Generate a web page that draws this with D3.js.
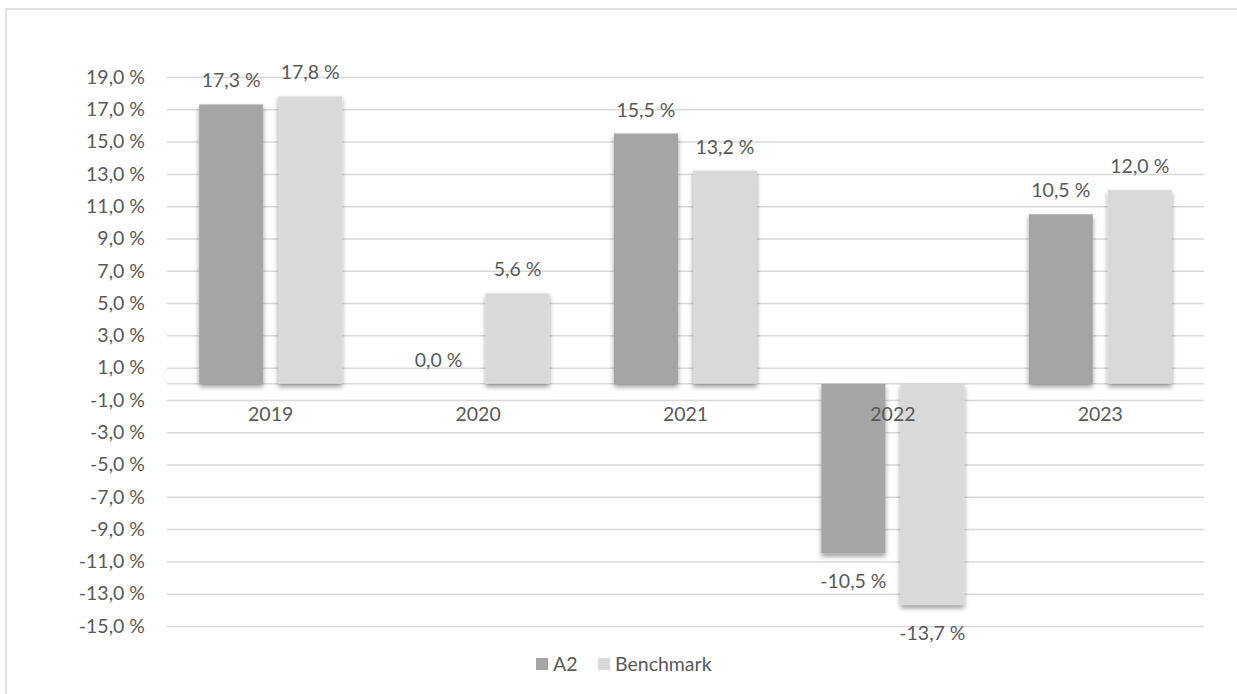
<!DOCTYPE html>
<html>
<head>
<meta charset="utf-8">
<script src="https://cdn.jsdelivr.net/npm/d3@7"></script>
<style>
  body { margin: 0; background: #ffffff; }
  text { font-family: Lato, "Open Sans", sans-serif; fill: #595959; }
</style>
</head>
<body>
<div id="chart"></div>
<script>
// chart data
const YEARS = ["2019", "2020", "2021", "2022", "2023"];
const SERIES = ["A2", "Benchmark"];
const A2_VALUES = [17.3, 0.0, 15.5, -10.5, 10.5];
const BENCH_VALUES = [17.8, 5.6, 13.2, -13.7, 12.0];
const Y_TICKS = [19, 17, 15, 13, 11, 9, 7, 5, 3, 1, -1, -3, -5, -7, -9, -11, -13, -15];

const COLORS = {A2: "#a5a5a5", Benchmark: "#d9d9d9"};

const FRAME_WIDTH = 1237;
const FRAME_HEIGHT = 694;
const PLOT = {left: 167, right: 1204, top: 77, bottom: 626};
const FONT_SIZE = 19.5;

const fmt = v => v.toFixed(1).replace(".", ",") + " %";

const svg = d3.select("#chart")
  .append("svg")
    .attr("width", FRAME_WIDTH)
    .attr("height", FRAME_HEIGHT);

// bar shadow
const defs = svg.append("defs");
defs.append("filter")
    .attr("id", "shadow")
    .attr("x", "-20%").attr("y", "-20%")
    .attr("width", "140%").attr("height", "140%")
  .append("feDropShadow")
    .attr("dx", 0).attr("dy", 3)
    .attr("stdDeviation", 2.5)
    .attr("flood-color", "#000")
    .attr("flood-opacity", 0.4);

// outer frame
svg.append("rect")
    .attr("x", 6).attr("y", 9)
    .attr("width", 1260).attr("height", 720)
    .attr("fill", "none")
    .attr("stroke", "#d9d9d9")
    .attr("stroke-width", 1.5);

const Y_SCALE = d3.scaleLinear()
  .domain([-15, 19])
  .range([PLOT.bottom, PLOT.top]);

const X_SCALE = d3.scaleBand()
  .domain(YEARS)
  .range([PLOT.left, PLOT.right]);

// two bars per year: 64px each with a 15px gap
const X_INNER = d3.scaleBand()
  .domain(SERIES)
  .range([0, 143])
  .paddingInner(0.19);

// grid lines + y labels
const yAxis = svg.append("g")
  .attr("transform", "translate(" + PLOT.left + ",0)")
  .call(d3.axisLeft(Y_SCALE)
    .tickValues(Y_TICKS)
    .tickSize(-(PLOT.right - PLOT.left))
    .tickPadding(22)
    .tickFormat(fmt));
yAxis.select(".domain").remove();
yAxis.selectAll(".tick line")
  .attr("stroke", "#d9d9d9")
  .attr("stroke-width", 1.5);
yAxis.selectAll(".tick text")
  .attr("font-size", FONT_SIZE)
  .attr("fill", "#595959");

// zero line
svg.append("line")
  .attr("x1", PLOT.left).attr("x2", PLOT.right)
  .attr("y1", Y_SCALE(0)).attr("y2", Y_SCALE(0))
  .attr("stroke", "#d9d9d9")
  .attr("stroke-width", 1.5);

const rows = [];
YEARS.forEach((yr, i) => {
  rows.push({year: yr, series: "A2", value: A2_VALUES[i]});
  rows.push({year: yr, series: "Benchmark", value: BENCH_VALUES[i]});
});

const barX = d => X_SCALE(d.year) + (X_SCALE.bandwidth() - 143) / 2 + X_INNER(d.series);

// bars
svg.selectAll(".bar")
  .data(rows.filter(d => d.value !== 0))
  .enter().append("rect")
    .attr("class", "bar")
    .attr("x", barX)
    .attr("y", d => Y_SCALE(Math.max(0, d.value)))
    .attr("width", X_INNER.bandwidth())
    .attr("height", d => Math.abs(Y_SCALE(d.value) - Y_SCALE(0)))
    .attr("fill", d => COLORS[d.series])
    .attr("filter", "url(#shadow)");

// category labels
svg.selectAll(".cat")
  .data(YEARS)
  .enter().append("text")
    .attr("class", "cat")
    .attr("x", d => X_SCALE(d) + X_SCALE.bandwidth() / 2)
    .attr("y", 421)
    .attr("text-anchor", "middle")
    .attr("font-size", FONT_SIZE)
    .text(d => d);

// value labels
svg.selectAll(".val")
  .data(rows)
  .enter().append("text")
    .attr("class", "val")
    .attr("x", d => barX(d) + X_INNER.bandwidth() / 2)
    .attr("y", d => d.value >= 0 ? Y_SCALE(d.value) - 17 : Y_SCALE(d.value) + 35)
    .attr("text-anchor", "middle")
    .attr("font-size", FONT_SIZE)
    .text(d => fmt(d.value));

// legend
const legend = svg.append("g");
const LEG_X = [536, 598];
SERIES.forEach((s, i) => {
  legend.append("rect")
    .attr("x", LEG_X[i]).attr("y", 658)
    .attr("width", 12).attr("height", 12)
    .attr("fill", COLORS[s]);
  legend.append("text")
    .attr("x", LEG_X[i] + 17).attr("y", 671)
    .attr("font-size", FONT_SIZE)
    .text(s);
});
</script>
</body>
</html>
